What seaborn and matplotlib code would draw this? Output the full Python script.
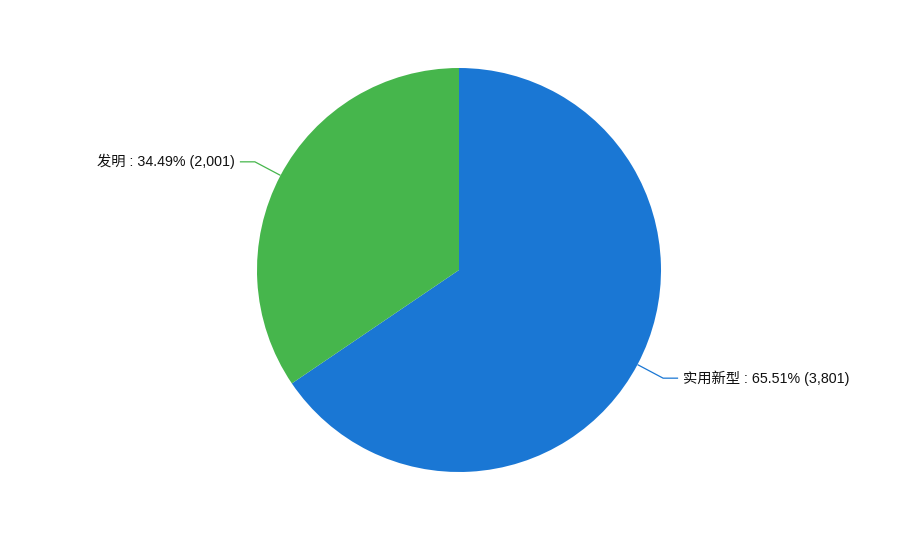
import numpy as np
import matplotlib
matplotlib.use("Agg")
import matplotlib.pyplot as plt
import seaborn as sns

categories = ["实用新型", "发明"]
values = [3801, 2001]
colors = ["#1a77d4", "#46b64c"]

sns.set_style("white")
plt.rcParams['font.family'] = ['Liberation Sans', 'Noto Sans CJK SC', 'DejaVu Sans']

fig = plt.figure(figsize=(9.18, 5.4), dpi=100)
ax = fig.add_axes([0, 0, 1, 1])

cx, cy, r = 459, 270, 202
wedges, _ = ax.pie(values, colors=colors, startangle=90, counterclock=False,
                   center=(cx, cy), radius=r, frame=True,
                   wedgeprops=dict(linewidth=0))
ax.set_xlim(0, 918)
ax.set_ylim(0, 540)
ax.set_aspect('equal')
ax.axis('off')

total = sum(values)
for w, cat, v, c in zip(wedges, categories, values, colors):
    ang = np.deg2rad((w.theta1 + w.theta2) / 2)
    x0, y0 = cx + r * np.cos(ang), cy + r * np.sin(ang)
    x1, y1 = cx + (r + 29) * np.cos(ang), cy + (r + 29) * np.sin(ang)
    side = 1 if np.cos(ang) >= 0 else -1
    x2 = x1 + side * 15
    ax.plot([x0, x1, x2], [y0, y1, y1], color=c, lw=0.9, solid_capstyle='butt')
    ax.text(x2 + side * 5, y1, f"{cat} : {v / total * 100:.2f}% ({v:,})",
            ha='left' if side > 0 else 'right', va='center', fontsize=10.3,
            color='#111111')

fig.savefig("out.png", dpi=100, facecolor='white')
